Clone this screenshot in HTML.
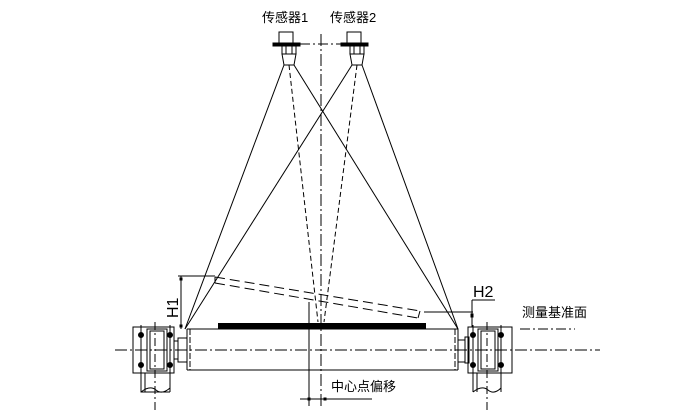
<!DOCTYPE html>
<html><head><style>body{margin:0;background:#fff}svg{display:block}text{font-family:"Liberation Sans","Noto Sans CJK SC",sans-serif;fill:#000}</style></head>
<body>
<svg width="691" height="410" viewBox="0 0 691 410" xmlns="http://www.w3.org/2000/svg" fill="none" stroke="#000" stroke-width="1">
<!-- labels -->
<text x="262" y="22" font-size="13" stroke="none">传感器1</text>
<text x="330" y="22" font-size="13" stroke="none">传感器2</text>
<!-- center line -->
<line x1="321" y1="34" x2="321" y2="408" stroke-dasharray="12,3,2,3"/>
<line x1="300" y1="44" x2="342" y2="44" stroke-dasharray="10,3,2,3"/>
<!-- sensors -->
<g id="s1">
<rect x="279" y="32" width="14" height="11"/>
<rect x="273" y="43" width="27" height="3" fill="#000"/>
<rect x="282" y="46" width="14" height="8"/>
<path d="M282 54 L296 54 L294 65 L284 65 Z"/>
<line x1="286" y1="46" x2="286" y2="54"/><line x1="292" y1="46" x2="292" y2="54"/>
</g>
<use href="#s1" transform="translate(68,0)"/>
<!-- beams -->
<line x1="284" y1="65" x2="185" y2="329"/>
<line x1="294" y1="65" x2="458" y2="329"/>
<line x1="352" y1="65" x2="185" y2="329"/>
<line x1="362" y1="65" x2="458" y2="329"/>
<line x1="289" y1="65" x2="318" y2="322" stroke-dasharray="5,3"/>
<line x1="357" y1="65" x2="324" y2="322" stroke-dasharray="5,3"/>
<!-- tilted dashed surface -->
<line x1="215" y1="277" x2="420" y2="311" stroke-dasharray="10,5"/>
<line x1="215" y1="283" x2="418" y2="318" stroke-dasharray="10,5"/>
<line x1="420" y1="311" x2="418" y2="318"/>
<line x1="215" y1="277" x2="215" y2="283"/>
<!-- H1 -->
<line x1="178" y1="276" x2="215" y2="276"/>
<line x1="181" y1="276" x2="181" y2="329"/>
<rect x="180" y="278" width="2" height="2" fill="#000"/><rect x="180" y="325" width="2" height="2" fill="#000"/>
<text x="0" y="0" font-size="16" stroke="none" transform="translate(178,318) rotate(-90)">H1</text>
<!-- H2 -->
<line x1="424" y1="312" x2="473" y2="312"/>
<line x1="472" y1="300" x2="472" y2="327"/>
<line x1="472" y1="300" x2="495" y2="300"/>
<rect x="471" y="314" width="2" height="3" fill="#000"/>
<text x="473" y="297" font-size="16" stroke="none">H2</text>
<text x="522" y="317" font-size="13" stroke="none">测量基准面</text>
<line x1="520" y1="329" x2="575" y2="329" stroke-dasharray="10,3,2,3"/>
<!-- roller -->
<rect x="218" y="323" width="208" height="6" fill="#000" stroke="none"/>
<line x1="187" y1="329" x2="458" y2="329"/>
<line x1="187" y1="370" x2="458" y2="370"/>
<line x1="187" y1="329" x2="187" y2="370"/>
<line x1="190" y1="329" x2="190" y2="370" stroke-dasharray="6,2"/>
<line x1="458" y1="329" x2="458" y2="370"/>
<line x1="455" y1="329" x2="455" y2="370" stroke-dasharray="6,2"/>
<line x1="115" y1="350" x2="600" y2="350" stroke-dasharray="12,3,2,3"/>
<!-- left bearing -->
<rect x="178" y="338" width="9" height="24"/>
<rect x="174" y="341" width="4" height="18"/>
<rect x="133" y="327" width="41" height="46"/>
<rect x="147" y="329" width="20" height="42"/>
<rect x="150" y="331" width="14" height="38"/>
<circle cx="141" cy="335" r="2.5" fill="#000"/><circle cx="141" cy="365" r="2.5" fill="#000"/>
<circle cx="170" cy="335" r="2.5" fill="#000"/><circle cx="170" cy="365" r="2.5" fill="#000"/>
<line x1="141" y1="325" x2="141" y2="375"/><line x1="170" y1="325" x2="170" y2="375"/>
<path d="M141 373 L141 392 L170 392 M141 373 M170 373 L170 392 M145 373 L145 392"/>
<path d="M141 392 Q150 385 156 390 Q162 395 170 388"/>
<line x1="155" y1="322" x2="155" y2="410" stroke-dasharray="8,3,2,3"/>
<!-- right bearing -->
<rect x="458" y="340" width="7" height="22"/>
<rect x="465" y="337" width="4" height="26"/>
<rect x="468" y="327" width="44" height="46"/>
<rect x="478" y="329" width="20" height="42"/>
<rect x="481" y="331" width="14" height="38"/>
<circle cx="473" cy="335" r="2.5" fill="#000"/><circle cx="473" cy="365" r="2.5" fill="#000"/>
<circle cx="501" cy="335" r="2.5" fill="#000"/><circle cx="501" cy="365" r="2.5" fill="#000"/>
<line x1="473" y1="325" x2="473" y2="375"/><line x1="501" y1="325" x2="501" y2="375"/>
<path d="M473 373 L473 392 M501 373 L501 392 M477 373 L477 392"/>
<path d="M473 392 Q482 385 488 390 Q494 395 501 388"/>
<line x1="487" y1="322" x2="487" y2="410" stroke-dasharray="8,3,2,3"/>
<!-- offset dimension -->
<line x1="309" y1="302" x2="309" y2="406"/>
<line x1="300" y1="399" x2="330" y2="399"/>
<rect x="308" y="398" width="2" height="2" fill="#000"/><rect x="324" y="398" width="2" height="2" fill="#000"/>
<text x="331" y="391" font-size="13" stroke="none">中心点偏移</text>
<line x1="325" y1="399" x2="372" y2="399"/>
</svg>
</body></html>
